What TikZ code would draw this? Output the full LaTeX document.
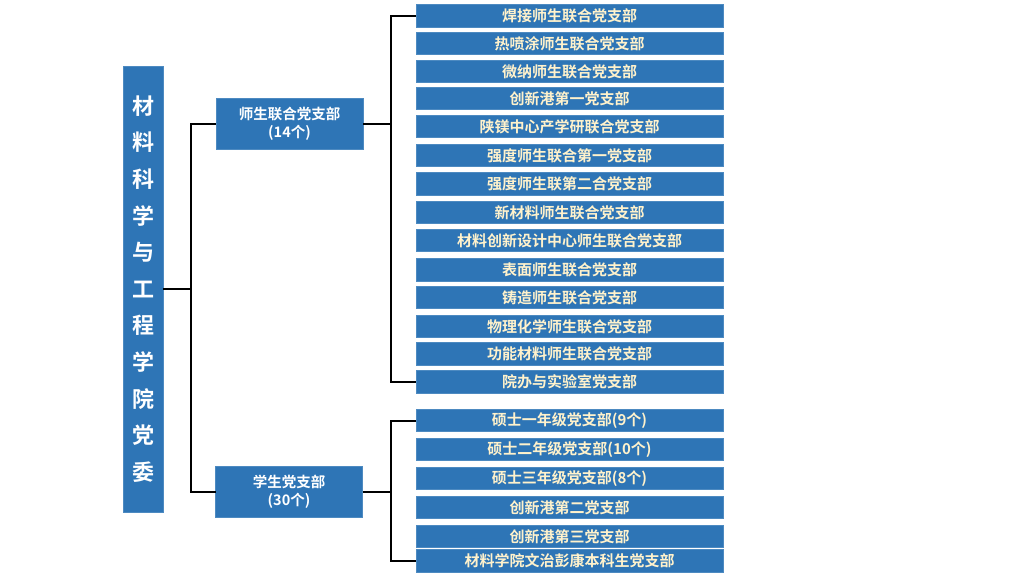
\documentclass[tikz,border=0pt]{standalone}
\usepackage{fontspec}
\setmainfont{Noto Sans CJK SC}[BoldFont={Noto Sans CJK SC Bold}]
\definecolor{boxblue}{HTML}{2E75B6}
\definecolor{cream}{HTML}{FFF2CC}
\begin{document}
\begin{tikzpicture}[x=1pt,y=-1pt,
  every node/.style={inner sep=0pt,outer sep=0pt},
  blue box/.style={fill=boxblue,draw=boxblue!85!white,line width=0.6pt,align=center},
  leaf/.style={blue box,minimum width=307pt,minimum height=22.5pt,text=cream,font=\bfseries\fontsize{15}{16}\selectfont},
  mid/.style={blue box,minimum width=147pt,minimum height=51pt,text=white,font=\bfseries\fontsize{14.5}{18}\selectfont},
  title/.style={blue box,minimum width=40pt,minimum height=446pt,text=white,font=\bfseries\fontsize{22}{36.6}\selectfont},
  link/.style={draw=black,line width=2pt}]
\useasboundingbox (0,0) rectangle (1024,576);
\fill[white] (0,0) rectangle (1024,576);

\node[title] (root) at (143,289) {材\\料\\科\\学\\与\\工\\程\\学\\院\\党\\委};

\node[mid] (m1) at (289.5,123.5) {师生联合党支部\\(14个)};
\node[mid] (m2) at (289,492) {学生党支部\\(30个)};

\node[leaf] (r1)  at (569.5,16)    {焊接师生联合党支部};
\node[leaf] (r2)  at (569.5,43.5)  {热喷涂师生联合党支部};
\node[leaf] (r3)  at (569.5,71.5)  {微纳师生联合党支部};
\node[leaf] (r4)  at (569.5,98.5)  {创新港第一党支部};
\node[leaf] (r5)  at (569.5,126.5) {陕镁中心产学研联合党支部};
\node[leaf] (r6)  at (569.5,155.5) {强度师生联合第一党支部};
\node[leaf] (r7)  at (569.5,184)   {强度师生联第二合党支部};
\node[leaf] (r8)  at (569.5,212.5) {新材料师生联合党支部};
\node[leaf] (r9)  at (569.5,240.5) {材料创新设计中心师生联合党支部};
\node[leaf] (r10) at (569.5,270)   {表面师生联合党支部};
\node[leaf] (r11) at (569.5,297.5) {铸造师生联合党支部};
\node[leaf] (r12) at (569.5,326.5) {物理化学师生联合党支部};
\node[leaf] (r13) at (569.5,354)   {功能材料师生联合党支部};
\node[leaf] (r14) at (569.5,382)   {院办与实验室党支部};

\node[leaf] (s1) at (569.5,420.5) {硕士一年级党支部(9个)};
\node[leaf] (s2) at (569.5,449.5) {硕士二年级党支部(10个)};
\node[leaf] (s3) at (569.5,478.5) {硕士三年级党支部(8个)};
\node[leaf] (s4) at (569.5,507.5) {创新港第二党支部};
\node[leaf] (s5) at (569.5,536.5) {创新港第三党支部};
\node[leaf] (s6) at (569.5,561)   {材料学院文治彭康本科生党支部};

\coordinate (busL) at ([xshift=28pt]root.east);
\coordinate (busA) at ([xshift=28pt]m1.east);
\coordinate (busB) at ([xshift=28.5pt]m2.east);

\draw[link] (root.east) -- (busL);
\draw[link] (m1.west) -| (busL) |- (m2.west);
\draw[link] (m1.east) -- (busA);
\draw[link] (r1.west) -| (busA) |- (r14.west);
\draw[link] (m2.east) -- (busB);
\draw[link] (s1.west) -| (busB) |- (s6.west);
\end{tikzpicture}
\end{document}
